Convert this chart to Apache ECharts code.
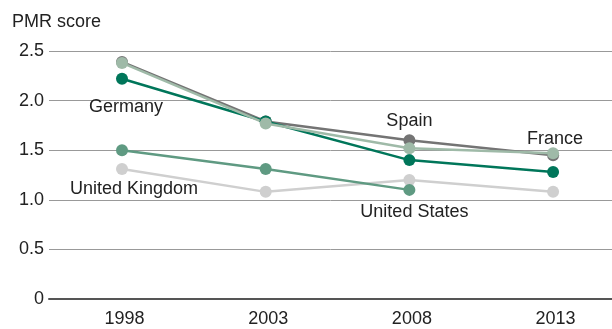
<!DOCTYPE html>
<html>
<head>
<meta charset="utf-8">
<script src="https://cdn.jsdelivr.net/npm/echarts@6/dist/echarts.min.js"></script>
<style>
  html, body { margin: 0; padding: 0; background: #fff; }
  #pmr { width: 612px; height: 329px; }
</style>
</head>
<body>
<div id="pmr"></div>
<script>
// 年份
const years = [1998, 2003, 2008, 2013];
const yTicks = [0, 0.5, 1.0, 1.5, 2.0, 2.5];

// PMR score per country
const spain = [2.39, 1.79, 1.60, 1.45];
const germany = [2.22, 1.79, 1.40, 1.28];
const unitedStates = [1.50, 1.31, 1.10, null];
const unitedKingdom = [1.31, 1.08, 1.20, 1.08];
const france = [2.38, 1.77, 1.52, 1.47];

// 系列（绘制顺序：后画的在上）
const countries = [
  { name: 'United Kingdom', values: unitedKingdom, color: '#cfcfcf', label: { idx: 0, pos: 'bottom', offset: [12, 0] } },
  { name: 'United States', values: unitedStates, color: '#5f9a82', label: { idx: 2, pos: 'bottom', offset: [5, 2] } },
  { name: 'Spain', values: spain, color: '#747474', label: { idx: 2, pos: 'top', offset: [0, 1] } },
  { name: 'Germany', values: germany, color: '#00765a', label: { idx: 0, pos: 'bottom', offset: [4, 8] } },
  { name: 'France', values: france, color: '#9fbaa8', label: { idx: 3, pos: 'top', offset: [2, 6] } }
];

const chart = echarts.init(document.getElementById('pmr'));

const series = countries.map(c => ({
  name: c.name,
  type: 'line',
  color: c.color,
  symbol: 'circle',
  symbolSize: 12,
  lineStyle: { width: 2.5 },
  connectNulls: false,
  data: c.values.map((v, i) => {
    const item = { value: [years[i], v] };
    if (i === c.label.idx) {
      item.label = {
        show: true,
        formatter: c.name,
        position: c.label.pos,
        offset: c.label.offset,
        color: '#222',
        fontSize: 18,
        fontFamily: 'Liberation Sans'
      };
    }
    return item;
  })
}));

chart.setOption({
  animation: false,
  textStyle: { fontFamily: 'Liberation Sans' },
  title: {
    text: 'PMR score',
    left: 7,
    top: 8,
    textStyle: { fontSize: 18, fontWeight: 'normal', color: '#222', fontFamily: 'Liberation Sans' }
  },
  grid: { left: 49, right: 0, top: 51, bottom: 30 },
  xAxis: {
    type: 'value',
    min: 1995.46,
    max: 2015.05,
    splitLine: { show: false },
    axisTick: { show: false },
    axisLine: { show: true, lineStyle: { color: '#555', width: 2 } },
    axisLabel: {
      customValues: years,
      formatter: v => String(v),
      color: '#222',
      fontSize: 18,
      margin: 11,
      padding: [0, 0, 0, 5]
    }
  },
  yAxis: {
    type: 'value',
    min: 0,
    max: 2.5,
    interval: 0.5,
    axisLine: { show: false },
    axisTick: { show: false },
    splitLine: { lineStyle: { color: '#999', width: 1 } },
    axisLabel: {
      formatter: v => (v === 0 ? '0' : v.toFixed(1)),
      color: '#222',
      fontSize: 18,
      margin: 5
    }
  },
  series: series
});
</script>
</body>
</html>
